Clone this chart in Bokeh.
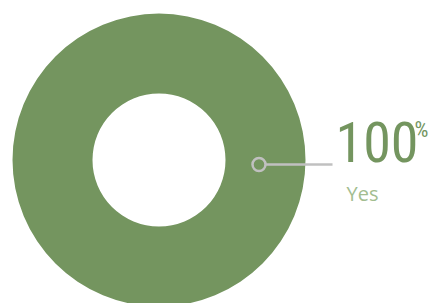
from bokeh.plotting import figure
from bokeh.models import Range1d, ColumnDataSource
from bokeh.embed import file_html
from bokeh.resources import INLINE
from bokeh.core.properties import value
import math

# data
categories = ["Yes"]
values = [100]
colors = ["#74955f"]
label_color = "#a2bd90"

total = sum(values)
W, H = 429, 303
p = figure(width=W, height=H, output_backend="svg", toolbar_location=None,
           x_range=Range1d(0, W), y_range=Range1d(H, 0), min_border=0)
p.axis.visible = False
p.grid.visible = False
p.outline_line_color = None
p.background_fill_color = "white"
p.border_fill_color = "white"

cx, cy = 158.5, 159.5
r_in, r_out = 66.5, 146.5
starts, ends = [], []
acc = 0.0
for v in values:
    starts.append(2 * math.pi * acc / total)
    acc += v
    ends.append(2 * math.pi * acc / total)
src = ColumnDataSource(dict(cat=categories, val=values, color=colors,
                            start=starts, end=ends,
                            pct=[str(round(100 * v / total)) for v in values]))
p.annular_wedge(x=cx, y=cy, inner_radius=r_in, outer_radius=r_out,
                start_angle="start", end_angle="end", fill_color="color",
                line_color=None, source=src)

# leader
p.segment(x0=[265.5], y0=[164], x1=[332], y1=[164], line_color="#c0c0c0", line_width=2.5)
p.scatter(x=[258.5], y=[164], size=13, marker="circle", fill_color=colors[0],
          line_color="#c0c0c0", line_width=2.5)

num_font = value("Roboto Condensed")
p.text(x=335, y=121, text="pct", source=src, text_font=num_font,
       text_font_size=value("56px"), text_color=colors[0], text_baseline="top",
       text_align="left")
p.text(x=[414], y=[116], text=["%"], text_font=num_font,
       text_font_size=value("22px"), text_color=colors[0], text_baseline="top",
       text_align="left")
p.text(x=346, y=179, text="cat", source=src, text_font=value("Open Sans"),
       text_font_size=value("20px"), text_color=label_color, text_baseline="top",
       text_align="left")

open("out.html", "w").write(file_html(p, INLINE))
